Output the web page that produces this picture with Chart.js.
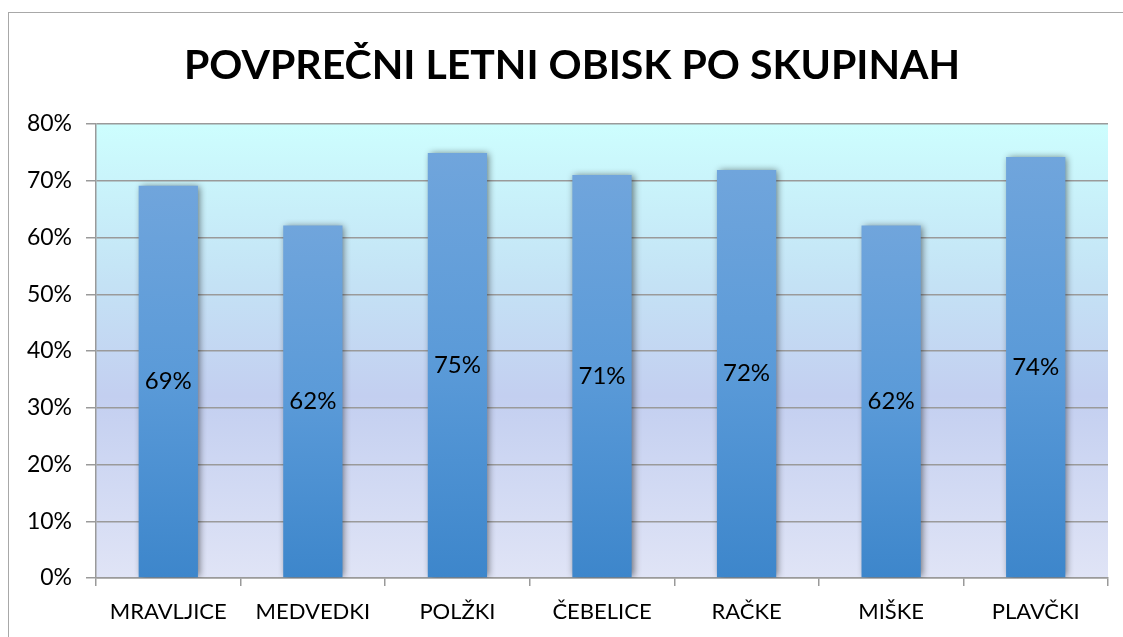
<!DOCTYPE html>
<html>
<head>
<meta charset="utf-8">
<script src="https://cdn.jsdelivr.net/npm/chart.js@4.4.1/dist/chart.umd.min.js"></script>
<style>
  html, body { margin: 0; padding: 0; background: #fff; overflow: hidden; }
  #frame {
    position: absolute; left: 8px; top: 12px;
    width: 1200px; height: 700px;
    border: 1px solid #a8a8a8; box-sizing: border-box;
  }
  #wrap { position: absolute; left: 0; top: 0; width: 1123px; height: 637px; }
</style>
</head>
<body>
<div id="frame"></div>
<div id="wrap"><canvas id="chart" width="1123" height="637"></canvas></div>
<script>
// ==============================
// DATA
// ==============================
const chartTitle = "POVPREČNI LETNI OBISK PO SKUPINAH";
const groups = ["MRAVLJICE", "MEDVEDKI", "POLŽKI", "ČEBELICE", "RAČKE", "MIŠKE", "PLAVČKI"];
const attendance = [69.1, 62.1, 74.9, 71.0, 71.9, 62.1, 74.2];
const yTicks = [0, 10, 20, 30, 40, 50, 60, 70, 80];

const FONT = "Lato, 'Noto Sans', sans-serif";

// plot background gradient + bar shadows + labels + title
const decor = {
  id: "decor",
  beforeDraw(chart) {
    const { ctx, chartArea: a } = chart;
    const g = ctx.createLinearGradient(0, a.top, 0, a.bottom);
    g.addColorStop(0, "#cdfefe");
    g.addColorStop(0.35, "#c4e2f5");
    g.addColorStop(0.6, "#c3cff0");
    g.addColorStop(1, "#e0e4f6");
    ctx.save();
    ctx.fillStyle = g;
    ctx.fillRect(a.left, a.top, a.right - a.left, a.bottom - a.top);
    ctx.restore();
  },
  beforeDatasetsDraw(chart) {
    const ctx = chart.ctx;
    ctx.save();
    ctx.shadowColor = "rgba(0,0,0,0.5)";
    ctx.shadowBlur = 7;
    ctx.shadowOffsetX = 2;
    ctx.shadowOffsetY = 0;
  },
  afterDatasetsDraw(chart) {
    const ctx = chart.ctx;
    ctx.restore();

    // value labels in the middle of each bar
    const meta = chart.getDatasetMeta(0);
    ctx.save();
    ctx.font = "24px " + FONT;
    ctx.fillStyle = "#000";
    ctx.textAlign = "center";
    ctx.textBaseline = "middle";
    meta.data.forEach((bar, i) => {
      const y = (bar.y + bar.base) / 2;
      ctx.fillText(Math.round(attendance[i]) + "%", bar.x, y);
    });
    ctx.restore();
  },
  afterDraw(chart) {
    // title, centred on the outer frame rather than the plot
    const ctx = chart.ctx;
    ctx.save();
    ctx.font = "bold 41px " + FONT;
    ctx.fillStyle = "#000";
    ctx.textAlign = "center";
    ctx.textBaseline = "middle";
    ctx.fillText(chartTitle, 572, 66);
    ctx.restore();
  },
};

function barGradient(c) {
  const chart = c.chart;
  const yScale = chart.scales.y;
  if (!yScale || typeof c.raw !== "number") return "#5a98d6";
  const top = yScale.getPixelForValue(c.raw);
  const bottom = yScale.getPixelForValue(0);
  if (!isFinite(top) || !isFinite(bottom) || top === bottom) return "#5a98d6";
  const g = chart.ctx.createLinearGradient(0, top, 0, bottom);
  g.addColorStop(0, "#70a5dc");
  g.addColorStop(0.5, "#5a9ad8");
  g.addColorStop(1, "#3d86cb");
  return g;
}

new Chart(document.getElementById("chart"), {
  type: "bar",
  data: {
    labels: groups,
    datasets: [
      {
        label: "Obisk",
        data: attendance,
        backgroundColor: barGradient,
        borderWidth: 0,
        categoryPercentage: 1,
        barPercentage: 0.41,
      },
    ],
  },
  plugins: [decor],
  options: {
    responsive: false,
    animation: false,
    events: [],
    layout: { padding: { left: 0, right: 15, top: 124, bottom: 0 } },
    scales: {
      x: {
        offset: true,
        grid: {
          offset: true,
          drawOnChartArea: false,
          drawTicks: true,
          tickLength: 8,
          color: "#9a9a9a",
          lineWidth: 1.5,
        },
        border: { display: true, color: "#9a9a9a", width: 1.5 },
        ticks: {
          font: { family: FONT, size: 22 },
          color: "#000",
          padding: 13,
          maxRotation: 0,
        },
        afterFit(scale) { scale.height = 637 - 578; },
      },
      y: {
        min: 0,
        max: 80,
        afterBuildTicks(scale) {
          scale.ticks = yTicks.map((v) => ({ value: v }));
        },
        grid: {
          color: "#9a9a9a",
          lineWidth: 1.5,
          tickLength: 10,
        },
        border: { display: true, color: "#9a9a9a", width: 1.5 },
        ticks: {
          font: { family: FONT, size: 23 },
          color: "#000",
          padding: 14,
          callback: (v) => v + "%",
        },
        afterFit(scale) { scale.width = 96; },
      },
    },
    plugins: {
      legend: { display: false },
      tooltip: { enabled: false },
      title: { display: false },
    },
  },
});
</script>
</body>
</html>
